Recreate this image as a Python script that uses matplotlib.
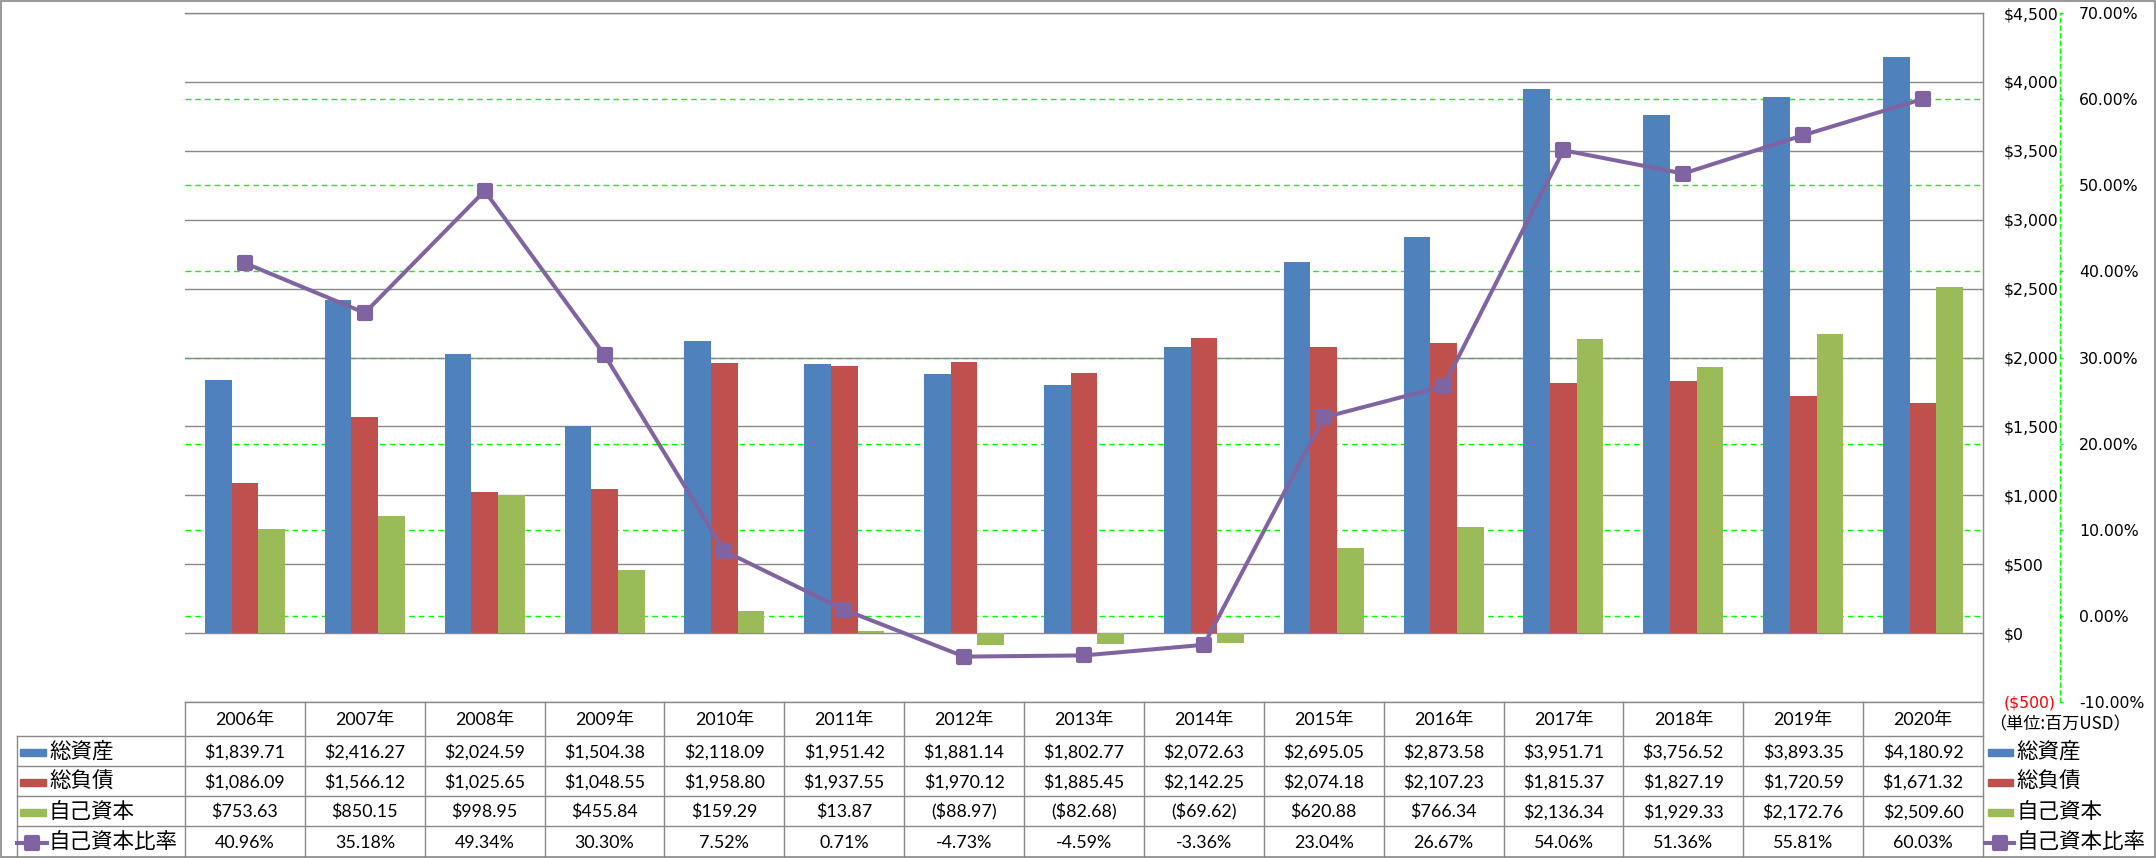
import numpy as np
import matplotlib
matplotlib.use("Agg")
import matplotlib.pyplot as plt
from matplotlib.markers import MarkerStyle
from matplotlib.patches import Rectangle
from matplotlib.lines import Line2D
from matplotlib.transforms import blended_transform_factory

# ─── Data ─────────────────────────────────────────────────────────────────────
years = ["2006年", "2007年", "2008年", "2009年", "2010年", "2011年", "2012年",
         "2013年", "2014年", "2015年", "2016年", "2017年", "2018年", "2019年",
         "2020年"]
total_assets = [1839.71, 2416.27, 2024.59, 1504.38, 2118.09, 1951.42, 1881.14,
                1802.77, 2072.63, 2695.05, 2873.58, 3951.71, 3756.52, 3893.35,
                4180.92]
total_liab = [1086.09, 1566.12, 1025.65, 1048.55, 1958.80, 1937.55, 1970.12,
              1885.45, 2142.25, 2074.18, 2107.23, 1815.37, 1827.19, 1720.59,
              1671.32]
equity = [753.63, 850.15, 998.95, 455.84, 159.29, 13.87, -88.97, -82.68,
          -69.62, 620.88, 766.34, 2136.34, 1929.33, 2172.76, 2509.60]
equity_ratio = [40.96, 35.18, 49.34, 30.30, 7.52, 0.71, -4.73, -4.59, -3.36,
                23.04, 26.67, 54.06, 51.36, 55.81, 60.03]

series_names = ["総資産", "総負債", "自己資本", "自己資本比率"]
unit_label = "（単位:百万USD）"

# ─── Style ────────────────────────────────────────────────────────────────────
C_BLUE, C_RED, C_GREEN, C_PURPLE = "#4F81BD", "#C0504D", "#9BBB59", "#8064A2"
C_GRID = "#898989"
C_LIME = "#00FF00"
AX_FONT = ["DejaVu Sans", "Noto Sans CJK JP"]
TAB_FONT = ["Lato", "Noto Sans CJK JP"]
JP_FONT = ["Noto Sans CJK JP", "DejaVu Sans"]
plt.rcParams["font.family"] = AX_FONT

# ─── Layout (pixels of a 2156 x 858 canvas) ───────────────────────────────────
W, H = 2156, 858
PL, PR, PT, PB = 185, 1983, 13, 702          # plot box
TAB_BOTTOM = 857
ROW_EDGES = [702, 736, 766, 796, 826, 857]    # header + 4 rows
n = len(years)
cw = (PR - PL) / n


def fx(p):
    return p / W


def fy(p):
    return 1 - p / H


def px(xp):
    """pixel x -> category units (shared by plot and table)"""
    return (xp - PL) / cw - 0.5


fig = plt.figure(figsize=(W / 100, H / 100), dpi=100)

ax = fig.add_axes([fx(PL), fy(PB), (PR - PL) / W, (PB - PT) / H])
ax2 = ax.twinx()

x = np.arange(n)
bw = 0.2225
ax.bar(x - bw, total_assets, bw, color=C_BLUE, zorder=3)
ax.bar(x, total_liab, bw, color=C_RED, zorder=3)
ax.bar(x + bw, equity, bw, color=C_GREEN, zorder=3)

ax.set_xlim(-0.5, n - 0.5)
ax.set_ylim(-500, 4500)
dollar_ticks = np.arange(-500, 4501, 500)
ax.set_yticks(dollar_ticks)
ax.set_yticklabels([f"${v:,.0f}" if v >= 0 else f"(${-v:,.0f})"
                    for v in dollar_ticks])
ax.yaxis.tick_right()
ax.tick_params(axis="y", length=0, pad=15, labelsize=11.3)
ax.set_xticks([])
for lab in ax.yaxis.get_ticklabels():
    lab.set_horizontalalignment("left")
ax.yaxis.get_ticklabels()[0].set_color("red")
ax.set_axisbelow(False)
ax.grid(axis="y", color=C_GRID, lw=1.0, zorder=1)
ax.spines["left"].set_visible(False)
for s in ["top", "bottom", "right"]:
    ax.spines[s].set_color(C_GRID)
    ax.spines[s].set_linewidth(1.0)

# secondary axis: equity ratio
ax2.set_ylim(-10, 70)
pct_ticks = np.arange(-10, 71, 10)
ax2.set_yticks(pct_ticks)
ax2.set_yticklabels([f"{v:.2f}%" for v in pct_ticks])
ax2.tick_params(axis="y", length=2.2, width=1, color=C_LIME, pad=11.5,
                labelsize=11.3)
ax2.yaxis.get_ticklabels()[0].set_color("red")
for s in ["left", "top", "bottom"]:
    ax2.spines[s].set_visible(False)
ax2.spines["right"].set_position(("outward", (2060 - PR) * 0.72))
ax2.spines["right"].set_color(C_LIME)
ax2.spines["right"].set_linestyle((0, (3, 2.5)))
ax2.spines["right"].set_linewidth(1.0)

# green dashed gridlines of the ratio axis, kept behind grid and bars
trans = blended_transform_factory(ax.transAxes, ax2.transData)
for v in pct_ticks[1:-1]:
    ax.plot([0, 1], [v, v], transform=trans, color=C_LIME, lw=1.0,
            ls=(0, (4, 3)), zorder=0.5)

mk = MarkerStyle("s", joinstyle="round")
ax2.plot(x, equity_ratio, color=C_PURPLE, lw=2.9, marker=mk, ms=9,
         mfc=C_PURPLE, mec=C_PURPLE, mew=3, zorder=5)

# ─── Data table ───────────────────────────────────────────────────────────────
tab = fig.add_axes([fx(PL), 1 - TAB_BOTTOM / H, (PR - PL) / W,
                    (TAB_BOTTOM - PB) / H])
tab.set_xlim(-0.5, n - 0.5)
tab.set_ylim(TAB_BOTTOM, PB)
tab.axis("off")

x_lab = px(17)
lk = dict(color=C_GRID, lw=1.0, clip_on=False)
for yy in ROW_EDGES[1:-1]:
    tab.plot([x_lab, n - 0.5], [yy, yy], **lk)
for k in range(n + 1):
    tab.plot([k - 0.5, k - 0.5], [PB, TAB_BOTTOM], **lk)
tab.plot([x_lab, x_lab], [ROW_EDGES[1], TAB_BOTTOM], **lk)

row_c = [(a + b) / 2 for a, b in zip(ROW_EDGES[:-1], ROW_EDGES[1:])]


def money(v):
    return f"${v:,.2f}" if v >= 0 else f"(${-v:,.2f})"


rows = [[money(v) for v in total_assets],
        [money(v) for v in total_liab],
        [money(v) for v in equity],
        [f"{v:.2f}%" for v in equity_ratio]]

for i, yl in enumerate(years):
    tab.text(i, row_c[0] + 1, yl, ha="center", va="center", fontsize=12.9,
             family=TAB_FONT)
for r, vals in enumerate(rows):
    for i, s in enumerate(vals):
        tab.text(i, row_c[r + 1] + 1, s, ha="center", va="center",
                 fontsize=12.9, family=TAB_FONT)

key_colors = [C_BLUE, C_RED, C_GREEN]


def legend_key(x0, x1, xt, yc, r):
    if r < 3:
        tab.add_patch(Rectangle((px(x0), yc - 3.5), px(x1) - px(x0), 7,
                                color=key_colors[r], clip_on=False))
    else:
        tab.add_line(Line2D([px(x0 - 3), px(x1 + 1)], [yc, yc],
                            color=C_PURPLE, lw=2.9, clip_on=False))
        tab.add_line(Line2D([(px(x0 - 3) + px(x1 + 1)) / 2], [yc],
                            marker=mk, ms=8, mfc=C_PURPLE, mec=C_PURPLE,
                            mew=3, color=C_PURPLE, clip_on=False))
    tab.text(px(xt), yc, series_names[r], ha="left", va="center",
             fontsize=15.5, family=JP_FONT, clip_on=False)


for r in range(4):
    yc = row_c[r + 1] + 1
    legend_key(20, 46, 49, yc, r)
    legend_key(1988, 2013, 2016, yc, r)

fig.text(fx(1989), fy(724), unit_label, ha="left", va="center",
         fontsize=12.3, family=JP_FONT)

# outer chart border
fig.add_artist(Rectangle((fx(0.8), fy(857.2)), (W - 2.2) / W, (H - 1.9) / H,
                         transform=fig.transFigure, fill=False,
                         ec="#868686", lw=1.2))

fig.savefig("out.png", dpi=100)
